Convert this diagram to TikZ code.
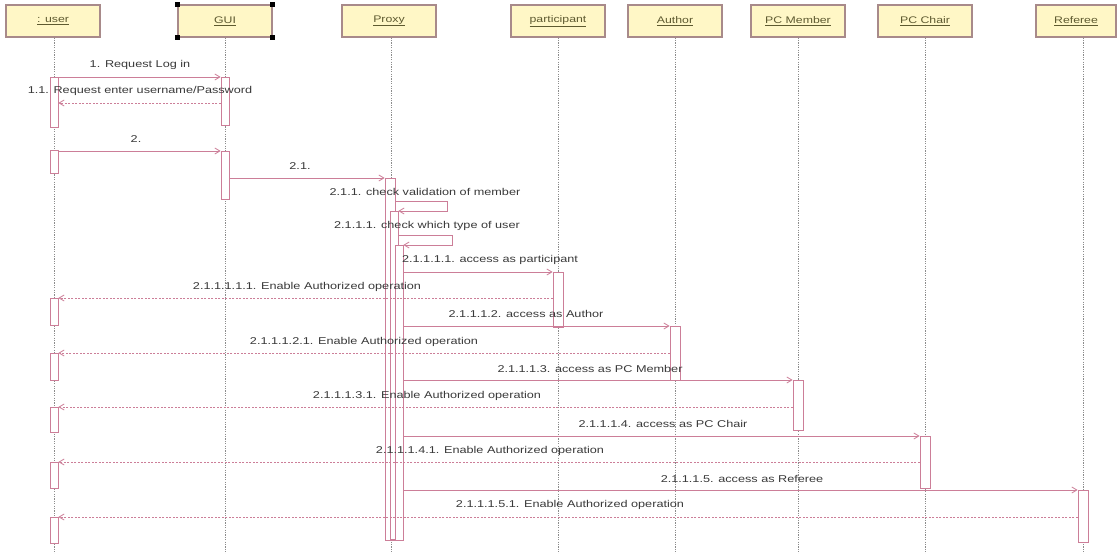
\documentclass[tikz,border=0pt]{standalone}
\usepackage{fontspec}
\setmainfont{Liberation Sans}[FakeStretch=1.28]
\usetikzlibrary{arrows.meta}
\definecolor{boxfill}{HTML}{FFF7C6}
\definecolor{boxline}{HTML}{A88A8A}
\definecolor{msgline}{HTML}{CC7E98}
\definecolor{lifeline}{HTML}{8C8C8C}
\definecolor{headtext}{HTML}{5E5A30}
\definecolor{labeltext}{HTML}{3A3A3A}
\tikzset{
  objbox/.style={draw=boxline, line width=1.1pt, fill=boxfill, minimum width=94pt,
    minimum height=32pt, inner sep=0pt, text=headtext, font=\fontsize{9.6}{11}\selectfont},
  life/.style={draw=lifeline, line width=0.8pt, dash pattern=on 1.2pt off 1.2pt},
  actbar/.style={draw=msgline, line width=0.8pt, fill=white, minimum width=8pt,
    inner sep=0pt, anchor=north},
  call/.style={draw=msgline, line width=0.8pt, -{Straight Barb[length=5pt,width=6pt]}},
  ret/.style={call, dash pattern=on 2pt off 1.5pt},
  msglabel/.style={text=labeltext, font=\fontsize{9.9}{11}\selectfont, inner sep=1pt},
  handle/.style={fill=black, minimum size=4.5pt, inner sep=0pt}
}
\begin{document}
\begin{tikzpicture}[x=1pt, y=-1pt]
\useasboundingbox (0,0) rectangle (1119,554);
\fill[white] (0,0) rectangle (1119,554);

% object heads
\node[objbox] (user) at (53,21) {\underline{: user}};
\node[objbox] (gui)  at (225,21) {\underline{GUI}};
\node[objbox] (proxy) at (389,21) {\underline{Proxy}};
\node[objbox] (part) at (558,21) {\underline{participant}};
\node[objbox] (auth) at (675,21) {\underline{Author}};
\node[objbox] (pcm)  at (798,21) {\underline{PC Member}};
\node[objbox] (pcc)  at (925,21) {\underline{PC Chair}};
\node[objbox, minimum width=80pt] (ref) at (1076,21) {\underline{Referee}};

% selection handles on the GUI head
\foreach \c in {north west, north east, south west, south east}
  \node[handle] at (gui.\c) {};

% lifelines
\coordinate (userE) at (54,554);
\coordinate (guiE) at (225,554);
\coordinate (proxyE) at (391,554);
\coordinate (partE) at (558,554);
\coordinate (authE) at (675,554);
\coordinate (pcmE) at (798,554);
\coordinate (pccE) at (925,554);
\coordinate (refE) at (1083,554);
\draw[life] (user.south -| userE) -- (userE);
\draw[life] (gui.south) -- (guiE);
\draw[life] (proxy.south -| proxyE) -- (proxyE);
\draw[life] (part.south) -- (partE);
\draw[life] (auth.south) -- (authE);
\draw[life] (pcm.south) -- (pcmE);
\draw[life] (pcc.south) -- (pccE);
\draw[life] (ref.south -| refE) -- (refE);

% activation bars
\node[actbar, minimum height=50pt] (ua1) at (54,77) {};
\node[actbar, minimum height=48pt] (ga1) at (225,77) {};
\node[actbar, minimum height=23pt] (ua2) at (54,150) {};
\node[actbar, minimum height=48pt] (ga2) at (225,151) {};
\node[actbar, minimum width=10pt, minimum height=362pt] (pa1) at (390,178) {};
\node[actbar, minimum height=328pt] (pa2) at (394,211) {};
\node[actbar, minimum height=295pt] (pa3) at (399,245) {};
\node[actbar, minimum width=10pt, minimum height=55pt] (pt1) at (558,272) {};
\node[actbar, minimum width=10pt, minimum height=54pt] (au1) at (675,326) {};
\node[actbar, minimum width=10pt, minimum height=50pt] (pm1) at (798,380) {};
\node[actbar, minimum width=10pt, minimum height=52pt] (pc1) at (925,436) {};
\node[actbar, minimum width=10pt, minimum height=52pt] (rf1) at (1083,490) {};
\node[actbar, minimum height=27pt] (ua3) at (54,298) {};
\node[actbar, minimum height=27pt] (ua4) at (54,353) {};
\node[actbar, minimum height=25pt] (ua5) at (54,407) {};
\node[actbar, minimum height=26pt] (ua6) at (54,462) {};
\node[actbar, minimum height=26pt] (ua7) at (54,517) {};

% log-in request
\draw[call] (ua1.north east) -- (ga1.north west);
\node[msglabel] (m1) at (140,65) {1. Request Log in};
\draw[ret] (ga1.west |- 0,103) -- (ua1.east |- 0,103);
\node[msglabel] (m11) at (140,91) {1.1. Request enter username/Password};

% credentials
\draw[call] (ua2.north east |- ga2.north) -- (ga2.north west);
\node[msglabel] (m2) at (136,139) {2.};
\draw[call] (ga2.east |- pa1.north) -- (pa1.north west);
\node[msglabel] (m21) at (300,166) {2.1.};

% self calls on the proxy
\coordinate (s1) at (447,201);
\draw[call] (pa1.east |- s1) -- (s1) -- (s1 |- pa2.north) -- (pa2.north east);
\node[msglabel] (m211) at (425,192) {2.1.1. check validation of member};
\coordinate (s2) at (452,235);
\draw[call] (pa2.east |- s2) -- (s2) -- (s2 |- pa3.north) -- (pa3.north east);
\node[msglabel] (m2111) at (427,226) {2.1.1.1. check which type of user};

% access per user type and the replies to the user
\draw[call] (pa3.east |- pt1.north) -- (pt1.north west);
\node[msglabel] (a1) at (490,260) {2.1.1.1.1. access as participant};
\draw[ret] (pt1.west |- ua3.north) -- (ua3.north east);
\node[msglabel] (r1) at (307,287) {2.1.1.1.1.1. Enable Authorized operation};

\draw[call] (pa3.east |- au1.north) -- (au1.north west);
\node[msglabel] (a2) at (526,314) {2.1.1.1.2. access as Author};
\draw[ret] (au1.west |- ua4.north) -- (ua4.north east);
\node[msglabel] (r2) at (364,342) {2.1.1.1.2.1. Enable Authorized operation};

\draw[call] (pa3.east |- pm1.north) -- (pm1.north west);
\node[msglabel] (a3) at (590,369) {2.1.1.1.3. access as PC Member};
\draw[ret] (pm1.west |- ua5.north) -- (ua5.north east);
\node[msglabel] (r3) at (427,396) {2.1.1.1.3.1. Enable Authorized operation};

\draw[call] (pa3.east |- pc1.north) -- (pc1.north west);
\node[msglabel] (a4) at (663,424) {2.1.1.1.4. access as PC Chair};
\draw[ret] (pc1.west |- ua6.north) -- (ua6.north east);
\node[msglabel] (r4) at (490,451) {2.1.1.1.4.1. Enable Authorized operation};

\draw[call] (pa3.east |- rf1.north) -- (rf1.north west);
\node[msglabel] (a5) at (742,479) {2.1.1.1.5. access as Referee};
\draw[ret] (rf1.west |- ua7.north) -- (ua7.north east);
\node[msglabel] (r5) at (570,505) {2.1.1.1.5.1. Enable Authorized operation};
\end{tikzpicture}
\end{document}
